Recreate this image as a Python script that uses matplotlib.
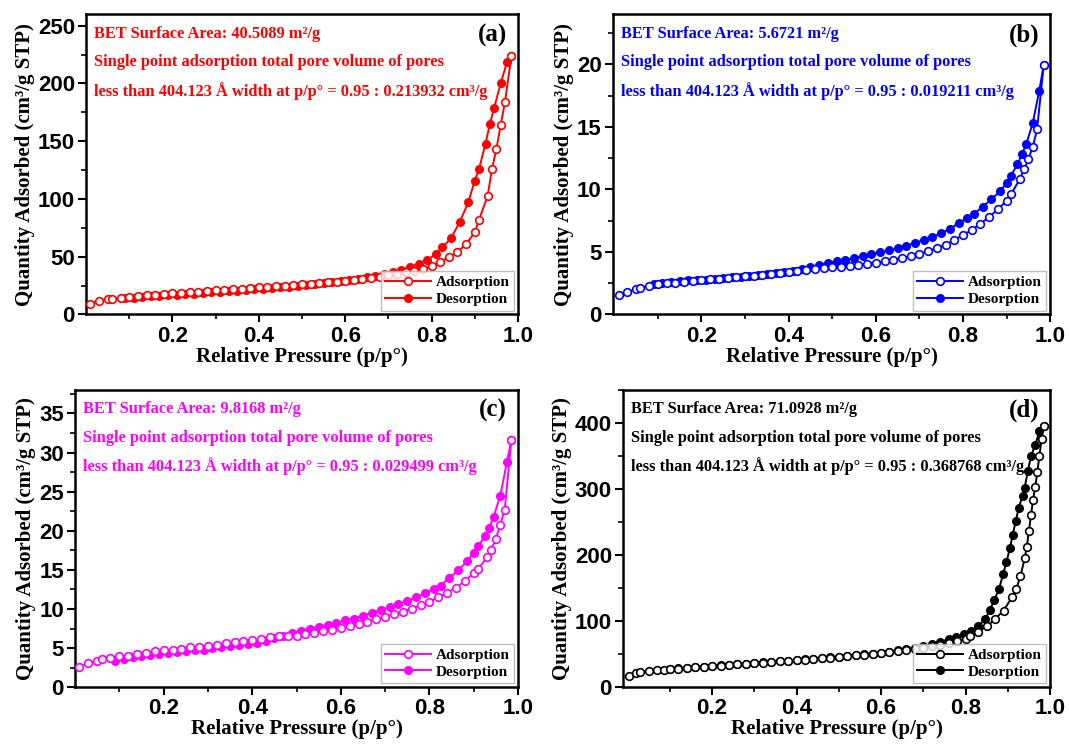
import matplotlib
matplotlib.use("Agg")
import matplotlib.pyplot as plt
from matplotlib.ticker import FixedLocator

# relative pressure grids (samples a, b, c share the same measurement program)
p_ads = [0.01, 0.03, 0.05, 0.06, 0.08, 0.10, 0.12, 0.14, 0.16, 0.18, 0.20, 0.22,
         0.24, 0.26, 0.28, 0.30, 0.32, 0.34, 0.36, 0.38, 0.40, 0.42, 0.44, 0.46,
         0.48, 0.50, 0.52, 0.54, 0.56, 0.58, 0.60, 0.62, 0.64, 0.66, 0.68, 0.70,
         0.72, 0.74, 0.76, 0.78, 0.80, 0.82, 0.84, 0.86, 0.88, 0.90, 0.91, 0.93,
         0.94, 0.95, 0.96, 0.97, 0.985]
p_des = [0.985, 0.975, 0.96, 0.945, 0.935, 0.925, 0.91, 0.90, 0.885, 0.865, 0.845,
         0.825, 0.81, 0.79, 0.77, 0.75, 0.73, 0.71, 0.69, 0.67, 0.65, 0.63, 0.61,
         0.59, 0.57, 0.55, 0.53, 0.51, 0.49, 0.47, 0.45, 0.43, 0.41, 0.39, 0.37,
         0.35, 0.33, 0.31, 0.29, 0.27, 0.25, 0.23, 0.21, 0.19, 0.17, 0.15, 0.13,
         0.11, 0.09]

# sample d has denser points near saturation
p_ads_d = [0.003, 0.02, 0.03, 0.05, 0.07, 0.085, 0.10, 0.12, 0.14, 0.16, 0.18,
           0.20, 0.22, 0.24, 0.26, 0.28, 0.30, 0.32, 0.34, 0.36, 0.38, 0.40, 0.42,
           0.44, 0.46, 0.48, 0.50, 0.52, 0.54, 0.56, 0.58, 0.60, 0.62, 0.64, 0.66,
           0.68, 0.70, 0.72, 0.74, 0.76, 0.78, 0.80, 0.81, 0.83, 0.85, 0.87, 0.89,
           0.91, 0.92, 0.93, 0.94, 0.945, 0.95, 0.955, 0.96, 0.965, 0.97, 0.975,
           0.98, 0.985]
p_des_d = [0.985, 0.975, 0.965, 0.955, 0.948, 0.94, 0.935, 0.926, 0.919, 0.912,
           0.905, 0.897, 0.889, 0.879, 0.868, 0.858, 0.846, 0.83, 0.814, 0.797,
           0.778, 0.76, 0.74, 0.72, 0.70, 0.68, 0.66, 0.64, 0.62, 0.60, 0.58, 0.56,
           0.54, 0.52, 0.50, 0.48, 0.46, 0.44, 0.42, 0.40, 0.38, 0.36, 0.34, 0.32,
           0.30, 0.28, 0.26, 0.24, 0.22, 0.20, 0.18, 0.16, 0.14, 0.12, 0.10]

# quantity adsorbed (cm3/g STP)
ads_a = [9.5, 11.8, 13.0, 13.7, 14.5, 15.2, 16.0, 16.6, 17.2, 17.8, 18.3, 18.9,
         19.4, 19.9, 20.4, 20.9, 21.4, 21.9, 22.4, 22.9, 23.4, 23.9, 24.4, 24.9,
         25.4, 26.0, 26.6, 27.2, 27.8, 28.5, 29.2, 30.0, 30.8, 31.7, 32.7, 33.8,
         35.0, 36.4, 38.0, 39.8, 42.0, 45.5, 49.5, 54.0, 61.0, 71.0, 82.0, 103.0,
         126.0, 143.0, 164.0, 184.0, 224.0]
des_a = [224.0, 219.0, 200.0, 179.0, 165.0, 148.0, 126.0, 116.0, 97.0, 80.0, 66.0,
         58.0, 52.0, 47.5, 44.0, 41.0, 38.8, 36.8, 35.0, 33.5, 32.1, 30.9, 29.8,
         28.8, 27.9, 27.0, 26.2, 25.4, 24.7, 24.0, 23.4, 22.8, 22.2, 21.7, 21.1,
         20.6, 20.1, 19.6, 19.1, 18.6, 18.1, 17.6, 17.1, 16.6, 16.1, 15.6, 15.0,
         14.4, 14.0]

ads_b = [1.55, 1.8, 2.0, 2.12, 2.28, 2.4, 2.48, 2.55, 2.62, 2.68, 2.74, 2.8,
         2.86, 2.92, 2.98, 3.04, 3.1, 3.17, 3.24, 3.3, 3.37, 3.44, 3.52, 3.6,
         3.68, 3.76, 3.82, 3.9, 3.98, 4.06, 4.15, 4.26, 4.38, 4.52, 4.68, 4.86,
         5.06, 5.3, 5.58, 5.95, 6.35, 6.75, 7.25, 7.8, 8.4, 9.1, 9.6, 10.8,
         11.6, 12.4, 13.4, 14.8, 19.9]
des_b = [19.9, 17.9, 15.3, 13.6, 12.8, 12.0, 11.1, 10.5, 9.85, 9.2, 8.6,
         8.05, 7.7, 7.3, 6.85, 6.5, 6.2, 5.95, 5.72, 5.5, 5.3, 5.12, 4.96,
         4.82, 4.66, 4.5, 4.36, 4.24, 4.13, 3.95, 3.78, 3.62, 3.5, 3.4, 3.32,
         3.25, 3.17, 3.08, 3.02, 2.96, 2.9, 2.85, 2.79, 2.76, 2.72, 2.65, 2.58,
         2.5, 2.45]

ads_c = [2.6, 3.1, 3.4, 3.55, 3.8, 3.95, 4.05, 4.25, 4.42, 4.58, 4.7, 4.82,
         4.95, 5.1, 5.2, 5.3, 5.45, 5.62, 5.73, 5.86, 6.0, 6.2, 6.37, 6.5,
         6.56, 6.6, 6.75, 6.97, 7.18, 7.38, 7.6, 7.88, 8.12, 8.4, 8.7, 9.03,
         9.35, 9.66, 10.05, 10.5, 10.95, 11.5, 12.1, 12.7, 13.6, 14.55, 15.1, 16.6,
         17.6, 19.0, 20.8, 22.7, 31.6]
des_c = [31.6, 28.8, 24.5, 21.8, 20.4, 19.3, 18.0, 17.2, 16.1, 14.95, 13.97,
         13.0, 12.55, 12.0, 11.5, 11.05, 10.65, 10.25, 9.9, 9.5, 9.15, 8.78, 8.55,
         8.22, 7.95, 7.72, 7.47, 7.22, 6.92, 6.6, 6.24, 5.93, 5.66, 5.56, 5.42,
         5.25, 5.1, 4.97, 4.82, 4.72, 4.58, 4.47, 4.32, 4.2, 4.1, 3.99, 3.88,
         3.6, 3.4]

ads_d = [16.5, 21.5, 23.0, 24.5, 25.5, 26.5, 27.2, 28.2, 29.1, 30.0, 30.9,
         31.8, 32.7, 33.6, 34.5, 35.4, 36.3, 37.2, 38.1, 39.0, 39.9, 40.8, 41.8,
         42.8, 43.8, 44.9, 46.0, 47.1, 48.3, 49.5, 50.8, 52.1, 53.5, 55.0, 56.6,
         58.3, 60.1, 62.0, 64.2, 66.8, 70.0, 73.5, 77.0, 84.0, 92.0, 103.0, 116.0,
         136.0, 148.0, 168.0, 195.0, 212.0, 236.0, 260.0, 284.0, 303.0, 326.0, 350.0,
         375.0, 396.0]
des_d = [396.0, 388.0, 366.0, 350.0, 328.0, 302.0, 290.0, 271.0, 252.0, 231.0,
         210.0, 190.0, 171.0, 148.0, 132.0, 117.0, 103.0, 92.0, 85.0, 80.0,
         76.0, 72.5, 69.0, 65.5, 62.5, 60.0, 57.8, 55.8, 54.0, 52.5, 51.0, 49.7,
         48.5, 47.3, 46.2, 45.1, 44.1, 43.1, 42.1, 41.2, 40.3, 39.4, 38.5, 37.6,
         36.7, 35.8, 34.9, 34.0, 33.1, 32.2, 31.3, 30.4, 29.5, 28.6, 27.7]

labels = ['(a)', '(b)', '(c)', '(d)']
colors = ['#ff0000', '#0000ff', '#ff00ff', '#000000']
bet_area = ['40.5089', '5.6721', '9.8168', '71.0928']
pore_vol = ['0.213932', '0.019211', '0.029499', '0.368768']
y_max = [260, 24, 38, 450]
y_step = [50, 5, 5, 100]
x_min = [0.0, -0.003, 0.0, -0.011]

serif = 'Liberation Serif'
sans = 'Liberation Sans'

fig = plt.figure(figsize=(10.69, 7.47), dpi=100)
rects = [[0.0805, 0.579, 0.404, 0.402],
         [0.5734, 0.579, 0.409, 0.402],
         [0.0702, 0.0800, 0.4144, 0.398],
         [0.5828, 0.0800, 0.3994, 0.398]]

panels = [(p_ads, ads_a, p_des, des_a),
          (p_ads, ads_b, p_des, des_b),
          (p_ads, ads_c, p_des, des_c),
          (p_ads_d, ads_d, p_des_d, des_d)]

for i, (pa, qa, pd_, qd) in enumerate(panels):
    ax = fig.add_axes(rects[i])
    c = colors[i]
    ax.plot(pa, qa, '-o', color=c, lw=1.4, ms=5.5, mfc='white', mec=c,
            mew=1.2, label='Adsorption', zorder=3)
    ax.plot(pd_, qd, '-o', color=c, lw=1.4, ms=5.5, mfc=c, mec=c,
            label='Desorption', zorder=2)

    ax.set_xlim(x_min[i], 1.0)
    ax.set_ylim(0, y_max[i])
    ax.xaxis.set_major_locator(FixedLocator([0.2, 0.4, 0.6, 0.8, 1.0]))
    ax.xaxis.set_minor_locator(FixedLocator([0.1, 0.3, 0.5, 0.7, 0.9]))
    step = y_step[i]
    majors = [k * step for k in range(int(y_max[i] // step) + 1)]
    ax.yaxis.set_major_locator(FixedLocator(majors))
    ax.yaxis.set_minor_locator(FixedLocator([m + step / 2 for m in majors]))
    ax.set_xticklabels(['0.2', '0.4', '0.6', '0.8', '1.0'])

    ax.tick_params(which='major', direction='out', length=6, width=1.5,
                   labelsize=16, top=False, right=False, pad=2)
    ax.tick_params(which='minor', direction='out', length=3.5, width=1.2,
                   top=False, right=False)
    for lab in ax.get_xticklabels() + ax.get_yticklabels():
        lab.set_fontfamily(sans)
        lab.set_fontweight('bold')
    for sp in ax.spines.values():
        sp.set_linewidth(1.8)

    ax.set_xlabel('Relative Pressure (p/p°)', fontsize=15, fontweight='bold',
                  family=serif, labelpad=0)
    ax.set_ylabel('Quantity Adsorbed (cm³/g STP)', fontsize=15, fontweight='bold',
                  family=serif, labelpad=2)

    txt = dict(color=c, fontsize=11.8, fontweight='bold', family=serif,
               transform=ax.transAxes, ha='left', va='center')
    ax.text(0.018, 0.935, 'BET Surface Area: %s m²/g' % bet_area[i], **txt)
    ax.text(0.018, 0.840, 'Single point adsorption total pore volume of pores', **txt)
    ax.text(0.018, 0.745, 'less than 404.123 Å width at p/p° = 0.95 : %s cm³/g'
            % pore_vol[i], **txt)
    ax.text(0.975, 0.93, labels[i], fontsize=18, fontweight='bold', family=serif,
            transform=ax.transAxes, ha='right', va='center')

    leg = ax.legend(loc='lower right', fancybox=False, handlelength=3.0,
                    borderaxespad=0.25, borderpad=0.3, labelspacing=0.2,
                    handletextpad=0.3, prop={'family': serif, 'weight': 'bold',
                                             'size': 11})
    leg.get_frame().set_edgecolor('#b0b0b0')
    leg.get_frame().set_linewidth(1.0)

fig.savefig('out.png', dpi=100)
